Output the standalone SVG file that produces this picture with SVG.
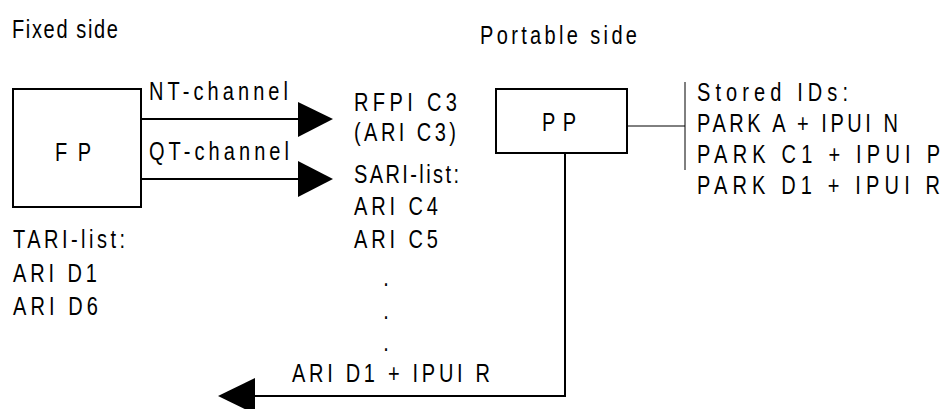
<svg xmlns="http://www.w3.org/2000/svg" width="942" height="409" viewBox="0 0 942 409">
<style>
text{font-family:"Liberation Sans",Arial,sans-serif;font-size:25px;fill:#000}
.box{fill:#fff;stroke:#000;stroke-width:2}
.thick{fill:none;stroke:#000;stroke-width:2}
.thin{fill:none;stroke:#000;stroke-width:1}
.head{fill:#000;stroke:none}
</style>
<rect width="942" height="409" fill="#fff"/>
<g id="headers">
<text transform="scale(0.8,1)" x="15" y="38" textLength="132.5" lengthAdjust="spacing">Fixed side</text>
<text transform="scale(0.8,1)" x="600" y="44" textLength="196.25" lengthAdjust="spacing">Portable side</text>
</g>
<g id="node-FP">
<rect class="box" x="13" y="89" width="128" height="118"/>
<text transform="scale(0.8,1)" x="68.75" y="161" textLength="45" lengthAdjust="spacing">FP</text>
</g>
<g id="node-PP">
<rect class="box" x="496" y="89" width="131" height="64"/>
<text transform="scale(0.8,1)" x="677.5" y="131" textLength="42.5" lengthAdjust="spacing">PP</text>
</g>
<g id="tari-list">
<text transform="scale(0.8,1)" x="16.25" y="248" textLength="140" lengthAdjust="spacing">TARI-list:</text>
<text transform="scale(0.8,1)" x="16.25" y="282" textLength="105" lengthAdjust="spacing">ARI D1</text>
<text transform="scale(0.8,1)" x="16.25" y="315" textLength="106.25" lengthAdjust="spacing">ARI D6</text>
</g>
<g id="broadcast">
<text transform="scale(0.8,1)" x="442.5" y="111" textLength="128.75" lengthAdjust="spacing">RFPI C3</text>
<text transform="scale(0.8,1)" x="442.5" y="141" textLength="127.5" lengthAdjust="spacing">(ARI C3)</text>
<text transform="scale(0.8,1)" x="442.5" y="183" textLength="131.25" lengthAdjust="spacing">SARI-list:</text>
<text transform="scale(0.8,1)" x="442.5" y="215" textLength="105" lengthAdjust="spacing">ARI C4</text>
<text transform="scale(0.8,1)" x="442.5" y="248" textLength="105" lengthAdjust="spacing">ARI C5</text>
<text transform="scale(0.8,1)" x="479" y="286">.</text>
<text transform="scale(0.8,1)" x="479" y="319">.</text>
<text transform="scale(0.8,1)" x="479" y="351">.</text>
</g>
<g id="stored-ids">
<text transform="scale(0.8,1)" x="871.25" y="101" textLength="188.75" lengthAdjust="spacing">Stored IDs:</text>
<text transform="scale(0.8,1)" x="871.25" y="132" textLength="251.25" lengthAdjust="spacing">PARK A + IPUI N</text>
<text transform="scale(0.8,1)" x="871.25" y="163" textLength="303.75" lengthAdjust="spacing">PARK C1 + IPUI P</text>
<text transform="scale(0.8,1)" x="871.25" y="194" textLength="303.75" lengthAdjust="spacing">PARK D1 + IPUI R</text>
</g>
<g id="connectors">
<line class="thick" x1="141" y1="119" x2="299" y2="119"/>
<polygon class="head" points="298,102 333,119 298,137"/>
<text transform="scale(0.8,1)" x="186.25" y="100" textLength="173.75" lengthAdjust="spacing">NT-channel</text>
<line class="thick" x1="141" y1="179" x2="299" y2="179"/>
<polygon class="head" points="298,161 333,179 298,197"/>
<text transform="scale(0.8,1)" x="186.25" y="160" textLength="175" lengthAdjust="spacing">QT-channel</text>
<polyline class="thick" points="565,153 565,396 254,396"/>
<polygon class="head" points="255,378 218,396 255,414"/>
<text transform="scale(0.8,1)" x="365" y="382" textLength="247.5" lengthAdjust="spacing">ARI D1 + IPUI R</text>
<line class="thin" x1="627" y1="126" x2="685" y2="126"/>
<line class="thin" x1="685" y1="82" x2="685" y2="170"/>
</g>
</svg>
